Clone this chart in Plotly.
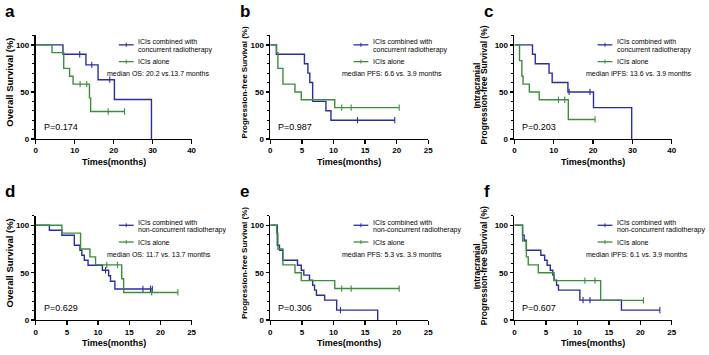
import numpy as np
import plotly.graph_objects as go

W, H = 709, 355
BLUE = "#2b2d9e"
GREEN = "#3d8d3d"
FONT = "Liberation Sans, Arial, sans-serif"

# ---------------- data (time in months, survival in %) ----------------
# a: OS, concurrent RT vs ICIs alone
a_comb_t = [0, 7.0, 12.9, 16.0, 20.2, 29.7]
a_comb_s = [100, 90, 78.75, 63, 42, 0]
a_comb_c = [11.3, 14.4, 19.0]
os_alone_t = [0, 4.2, 7.2, 8.7, 9.6, 13.8, 14.1, 22.8]
os_alone_s = [100, 91.7, 75, 66.7, 58.3, 43.7, 29.2, 29.2]
os_alone_c = [11.4, 13.1, 18.6, 22.8]

# b: PFS, concurrent RT vs ICIs alone
b_comb_t = [0, 0.95, 5.4, 5.95, 6.25, 6.7, 8.8, 9.6, 19.7]
b_comb_s = [100, 90, 80, 70, 60, 40, 30, 20, 20]
b_comb_c = [13.8, 19.7]
pfs_alone_t = [0, 1.0, 1.2, 2.0, 3.9, 4.9, 10.2, 20.4]
pfs_alone_s = [100, 91.7, 75, 58.3, 50, 41.7, 33.3, 33.3]
pfs_alone_c = [11.3, 12.8, 20.4]

# c: intracranial PFS, concurrent RT vs ICIs alone
c_comb_t = [0, 4.6, 5.3, 8.8, 9.6, 13.6, 20.1, 29.8]
c_comb_s = [100, 90, 80, 70, 60, 50, 33.3, 0]
c_comb_c = [13.9, 19.2]
ipfs_alone_t = [0, 1.3, 1.9, 2.2, 3.8, 6.3, 13.7, 20.5]
ipfs_alone_s = [100, 83.3, 66.7, 58.3, 50, 41.7, 20.8, 20.8]
ipfs_alone_c = [11.2, 12.8, 20.5]

# d: OS, non-concurrent RT
d_comb_t = [0, 2.2, 4.2, 6.2, 7.1, 7.4, 7.8, 8.4, 10.7, 11.7, 12.0, 12.7, 18.7]
d_comb_s = [100, 94.7, 89.5, 78.9, 73.7, 68.4, 63.2, 57.9, 52.6, 46.8, 41.0, 32.8, 32.8]
d_comb_c = [11.2, 17.2, 18.4, 18.7]

# e: PFS, non-concurrent RT
e_comb_t = [0, 1.1, 1.45, 1.95, 4.3, 4.9, 5.3, 6.2, 6.7, 7.0, 7.3, 8.6, 10.5, 17.0]
e_comb_s = [100, 78.9, 73.7, 63.2, 57.9, 52.6, 47.4, 42.1, 36.8, 31.6, 26.3, 21.1, 10.5, 0]
e_comb_c = [11.1]

# f: intracranial PFS, non-concurrent RT
f_comb_t = [0, 1.3, 1.55, 1.9, 4.2, 4.8, 5.2, 5.7, 6.1, 6.3, 6.7, 7.0, 10.4, 17.0, 23.1]
f_comb_s = [100, 89.5, 84.2, 73.7, 68.4, 63.2, 57.9, 52.6, 47.4, 42.1, 36.8, 31.6, 21.1, 10.5, 10.5]
f_comb_c = [10.9, 12.0, 23.1]

letters = ["a", "b", "c", "d", "e", "f"]
x_max = [40, 25, 40, 25, 25, 25]
x_dtick = [10, 5, 10, 5, 5, 5]
y_titles = [["Overall Survival (%)"], ["Progression-free Survival (%)"],
            ["Intracranial", "Progression-free Survival (%)"],
            ["Overall Survival (%)"], ["Progression-free Survival (%)"],
            ["Intracranial", "Progression-free Survival (%)"]]
legend_l2 = ["concurrent radiotherapy"] * 3 + ["non-concurrent radiotherapy"] * 3
medians = ["median OS: 20.2 vs.13.7 months", "median PFS: 6.6 vs. 3.9 months",
           "median iPFS: 13.6 vs. 3.9 months", "median OS: 11.7 vs. 13.7 months",
           "median PFS: 5.3 vs. 3.9 months", "median iPFS: 6.1 vs. 3.9 months"]
p_values = ["P=0.174", "P=0.987", "P=0.203", "P=0.629", "P=0.306", "P=0.607"]
curves = [
    [(a_comb_t, a_comb_s, a_comb_c, BLUE), (os_alone_t, os_alone_s, os_alone_c, GREEN)],
    [(b_comb_t, b_comb_s, b_comb_c, BLUE), (pfs_alone_t, pfs_alone_s, pfs_alone_c, GREEN)],
    [(c_comb_t, c_comb_s, c_comb_c, BLUE), (ipfs_alone_t, ipfs_alone_s, ipfs_alone_c, GREEN)],
    [(d_comb_t, d_comb_s, d_comb_c, BLUE), (os_alone_t, os_alone_s, os_alone_c, GREEN)],
    [(e_comb_t, e_comb_s, e_comb_c, BLUE), (pfs_alone_t, pfs_alone_s, pfs_alone_c, GREEN)],
    [(f_comb_t, f_comb_s, f_comb_c, BLUE), (ipfs_alone_t, ipfs_alone_s, ipfs_alone_c, GREEN)],
]

# ---------------- layout geometry (pixels) ----------------
cols = [(34, 191.5), (271, 430.5), (517.5, 676.5)]
rows = [(141, 45.5), (324.7, 228.5)]  # (y of 0%, y of 100%)
ytitle_size = [9.5, 8, 8.5, 9.5, 8, 8.5]


def px(x):
    return x / W


def py(y):
    return 1 - y / H


def step_value(t, s, c):
    t = np.asarray(t)
    i = np.searchsorted(t, c, side="right") - 1
    return np.asarray(s)[i]


fig = go.Figure()
layout = dict(width=W, height=H, margin=dict(l=0, r=0, t=0, b=0),
              paper_bgcolor="white", plot_bgcolor="white", showlegend=False)
annotations = []
shapes = []

for k in range(6):
    r, cidx = divmod(k, 3)
    xl, xr = cols[cidx]
    y0, y100 = rows[r]
    ytop = y0 - 1.1 * (y0 - y100)
    n = "" if k == 0 else str(k + 1)
    xa, ya = "x" + n, "y" + n
    layout["xaxis" + n] = dict(
        domain=[px(xl), px(xr)], range=[0, x_max[k]], anchor=ya,
        showline=True, linecolor="black", linewidth=1.3, mirror=False,
        ticks="outside", ticklen=3.5, tickwidth=1.3, tickcolor="black",
        tickvals=list(range(0, x_max[k] + 1, x_dtick[k])),
        tickfont=dict(family=FONT, size=8, color="black", weight="bold"),
        showgrid=False, zeroline=False)
    layout["yaxis" + n] = dict(
        domain=[py(y0), py(ytop)], range=[0, 110], anchor=xa,
        showline=True, linecolor="black", linewidth=1.3,
        ticks="outside", ticklen=3.5, tickwidth=1.3, tickcolor="black",
        tickvals=[0, 50, 100],
        minor=dict(tickvals=[v for v in range(10, 111, 10) if v not in (50, 100)],
                   ticks="outside", ticklen=2, tickwidth=1, tickcolor="black"),
        tickfont=dict(family=FONT, size=8, color="black", weight="bold"),
        showgrid=False, zeroline=False)

    for (t, s, cens, col) in curves[k]:
        fig.add_trace(go.Scatter(x=t, y=s, mode="lines", line=dict(color=col, width=1.4, shape="hv"),
                                 xaxis=xa, yaxis=ya, cliponaxis=False, hoverinfo="skip"))
        fig.add_trace(go.Scatter(x=cens, y=step_value(t, s, cens), mode="markers",
                                 marker=dict(symbol="line-ns", size=4.5, line=dict(color=col, width=1.1)),
                                 xaxis=xa, yaxis=ya, cliponaxis=False, hoverinfo="skip"))

    # panel letter
    annotations.append(dict(text="<b>%s</b>" % letters[k], x=px(xl - 33), y=py(y100 - 46),
                            xref="paper", yref="paper", xanchor="left", yanchor="top",
                            showarrow=False, font=dict(family=FONT, size=17, color="black")))
    # y title
    lines = y_titles[k]
    yc = (y0 + ytop) / 2 - 5 + (3 if len(lines) == 2 else 0)
    if len(lines) == 1:
        xs = [xl - 26.5]
    else:
        xs = [xl - 37.5, xl - 30.5]
    for xx, txt in zip(xs, lines):
        annotations.append(dict(text="<b>%s</b>" % txt, x=px(xx), y=py(yc), xref="paper", yref="paper",
                                xanchor="center", yanchor="middle", textangle=-90, showarrow=False,
                                font=dict(family=FONT, size=ytitle_size[k], color="black")))
    # x title
    annotations.append(dict(text="<b>Times(months)</b>", x=px((xl + xr) / 2), y=py(y0 + 23.5),
                            xref="paper", yref="paper", xanchor="center", yanchor="middle",
                            showarrow=False, font=dict(family=FONT, size=9, color="black")))
    # p value
    annotations.append(dict(text=p_values[k], x=px(xl + 6), y=py(y0 - 12.5), xref="paper", yref="paper",
                            xanchor="left", yanchor="middle", showarrow=False,
                            font=dict(family=FONT, size=9, color="black")))
    # legend
    for yy, txt in [(y100 - 3.3, "ICIs combined with"), (y100 + 4.8, legend_l2[k]),
                    (y100 + 17, "ICIs alone")]:
        annotations.append(dict(text=txt, x=px(xl + 101.5), y=py(yy), xref="paper", yref="paper",
                                xanchor="left", yanchor="middle", showarrow=False,
                                font=dict(family=FONT, size=7, color="black")))
    annotations.append(dict(text=medians[k], x=px(xl + 70), y=py(y100 + 29.3), xref="paper", yref="paper",
                            xanchor="left", yanchor="middle", showarrow=False,
                            font=dict(family=FONT, size=7, color="black")))
    for yy, col in [(y100, BLUE), (y100 + 17, GREEN)]:
        shapes.append(dict(type="line", xref="paper", yref="paper", x0=px(xl + 84), x1=px(xl + 99),
                           y0=py(yy), y1=py(yy), line=dict(color=col, width=1.3)))
        shapes.append(dict(type="line", xref="paper", yref="paper", x0=px(xl + 91.5), x1=px(xl + 91.5),
                           y0=py(yy - 2), y1=py(yy + 2), line=dict(color=col, width=1)))

layout["annotations"] = annotations
layout["shapes"] = shapes
fig.update_layout(**layout)
fig.write_html("out.html", config={"displayModeBar": False, "staticPlot": True},
               post_script="document.body.style.margin='0';document.body.style.overflow='hidden';")
